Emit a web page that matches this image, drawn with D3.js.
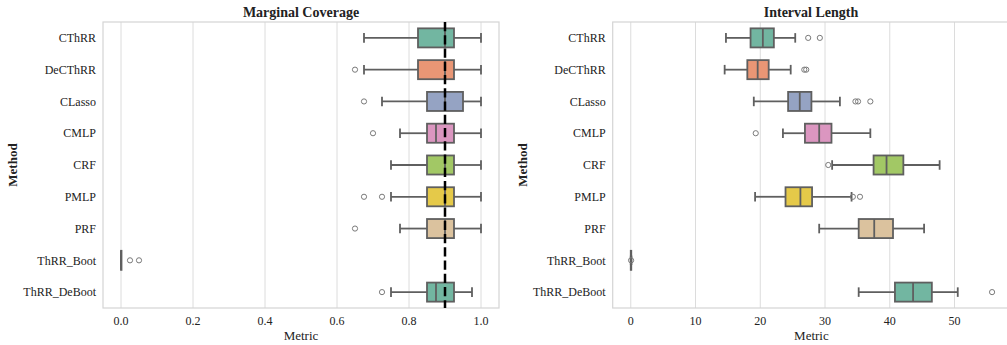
<!DOCTYPE html>
<html>
<head>
<meta charset="utf-8">
<script src="https://cdn.jsdelivr.net/npm/d3@7"></script>
<style>
  body { margin: 0; background: #fff; }
  text { font-family: "Liberation Serif", "Times New Roman", serif; fill: #222; }
</style>
</head>
<body>
<div id="graph"></div>
<script>
"use strict";

const width = 1007,
      height = 345;

const methods = ["CThRR", "DeCThRR", "CLasso", "CMLP", "CRF", "PMLP", "PRF", "ThRR_Boot", "ThRR_DeBoot"];

// Set2 palette, cycles after 8
const palette = ["#66c2a5", "#fc8d62", "#8da0cb", "#e78ac3", "#a6d854", "#ffd92f", "#e5c494", "#b3b3b3", "#66c2a5"];

// marginal coverage: [whisker low, q1, median, q3, whisker high]
const coverageBox = [
    [0.675, 0.825, 0.900, 0.925, 1.000],
    [0.675, 0.825, 0.900, 0.925, 1.000],
    [0.725, 0.850, 0.900, 0.950, 1.000],
    [0.775, 0.850, 0.875, 0.925, 1.000],
    [0.750, 0.850, 0.900, 0.925, 1.000],
    [0.750, 0.850, 0.900, 0.925, 1.000],
    [0.775, 0.850, 0.900, 0.925, 1.000],
    [0.000, 0.000, 0.000, 0.000, 0.000],
    [0.750, 0.850, 0.875, 0.925, 0.975]
];
const coverageOutliers = [
    [],
    [0.65],
    [0.675],
    [0.70],
    [],
    [0.675, 0.725],
    [0.65],
    [0.025, 0.05],
    [0.725]
];
const coverageTarget = 0.9;
const coverageTicks = [0.0, 0.2, 0.4, 0.6, 0.8, 1.0];

// interval length
const lengthBox = [
    [14.7, 18.5, 20.4, 22.1, 25.4],
    [14.5, 18.0, 19.6, 21.3, 24.7],
    [19.0, 24.3, 26.1, 27.9, 32.3],
    [23.5, 26.9, 29.1, 31.0, 37.0],
    [31.1, 37.5, 39.5, 42.1, 47.7],
    [19.2, 23.9, 26.2, 28.0, 34.1],
    [29.1, 35.2, 37.6, 40.5, 45.3],
    [0.0, 0.0, 0.02, 0.05, 0.1],
    [35.2, 40.8, 43.6, 46.5, 50.5]
];
const lengthOutliers = [
    [27.4, 29.2],
    [26.8, 27.1],
    [34.7, 35.1, 37.0],
    [19.3],
    [30.5],
    [34.3, 35.4],
    [],
    [0.05],
    [55.8]
];
const lengthTicks = [0, 10, 20, 30, 40, 50];

const plotTop = 22, plotBottom = 308;
const lineColor = "#5f5f5f";
const gridColor = "#dcdcdc";

const svg = d3.select("#graph")
    .append("svg")
    .attr("width", width)
    .attr("height", height);

function desaturate(c) {
    let h = d3.hsl(c);
    h.s *= 0.75;
    return h.formatHex();
}

function makePanel(opts) {
    let x = d3.scaleLinear().domain(opts.domain).range([opts.left, opts.right]);
    let y = d3.scaleBand().domain(methods).range([plotTop, plotBottom]).padding(0);
    let g = svg.append("g");

    // grid
    g.selectAll(".grid")
        .data(opts.ticks)
        .enter()
        .append("line")
        .attr("x1", d => x(d)).attr("x2", d => x(d))
        .attr("y1", plotTop).attr("y2", plotBottom)
        .attr("stroke", gridColor)
        .attr("stroke-width", 1);

    // frame
    g.append("rect")
        .attr("x", opts.left).attr("y", plotTop)
        .attr("width", opts.right - opts.left).attr("height", plotBottom - plotTop)
        .attr("fill", "none")
        .attr("stroke", "#d4d4d4")
        .attr("stroke-width", 1.2);

    let bw = y.bandwidth() * 0.6;
    let cap = bw * 0.5;

    methods.forEach(function(m, i) {
        let s = opts.box[i];
        let cy = y(m) + y.bandwidth() / 2;
        let row = g.append("g");

        row.append("line")
            .attr("x1", x(s[0])).attr("x2", x(s[1]))
            .attr("y1", cy).attr("y2", cy)
            .attr("stroke", lineColor).attr("stroke-width", 1.8);
        row.append("line")
            .attr("x1", x(s[3])).attr("x2", x(s[4]))
            .attr("y1", cy).attr("y2", cy)
            .attr("stroke", lineColor).attr("stroke-width", 1.8);
        [s[0], s[4]].forEach(function(v) {
            row.append("line")
                .attr("x1", x(v)).attr("x2", x(v))
                .attr("y1", cy - cap / 2).attr("y2", cy + cap / 2)
                .attr("stroke", lineColor).attr("stroke-width", 1.8);
        });
        row.append("rect")
            .attr("x", x(s[1])).attr("y", cy - bw / 2)
            .attr("width", Math.max(x(s[3]) - x(s[1]), 0.5))
            .attr("height", bw)
            .attr("fill", desaturate(palette[i]))
            .attr("stroke", lineColor).attr("stroke-width", 1.8);
        row.append("line")
            .attr("x1", x(s[2])).attr("x2", x(s[2]))
            .attr("y1", cy - bw / 2).attr("y2", cy + bw / 2)
            .attr("stroke", lineColor).attr("stroke-width", 1.8);

        row.selectAll(".flier")
            .data(opts.outliers[i])
            .enter()
            .append("circle")
            .attr("cx", d => x(d)).attr("cy", cy)
            .attr("r", 2.6)
            .attr("fill", "none")
            .attr("stroke", "#7a7a7a")
            .attr("stroke-width", 1);
    });

    if (opts.target !== undefined) {
        g.append("line")
            .attr("x1", x(opts.target)).attr("x2", x(opts.target))
            .attr("y1", plotTop).attr("y2", plotBottom)
            .attr("stroke", "#000")
            .attr("stroke-width", 2.5)
            .attr("stroke-dasharray", "9.25,4");
    }

    // tick labels
    g.selectAll(".xt")
        .data(opts.ticks)
        .enter()
        .append("text")
        .attr("x", d => x(d)).attr("y", 325)
        .attr("text-anchor", "middle")
        .style("font-size", "12px")
        .text(d => opts.fmt(d));

    g.selectAll(".yt")
        .data(methods)
        .enter()
        .append("text")
        .attr("x", opts.left - 7)
        .attr("y", d => y(d) + y.bandwidth() / 2)
        .attr("dy", "0.35em")
        .attr("text-anchor", "end")
        .style("font-size", "12px")
        .text(d => d);

    g.append("text")
        .attr("x", (opts.left + opts.right) / 2).attr("y", 340)
        .attr("text-anchor", "middle")
        .style("font-size", "13px")
        .text("Metric");

    g.append("text")
        .attr("transform", "translate(" + opts.ylabelX + "," + ((plotTop + plotBottom) / 2) + ") rotate(-90)")
        .attr("text-anchor", "middle")
        .style("font-size", "13px")
        .style("font-weight", "bold")
        .text("Method");

    let titleX = opts.titleX !== undefined ? opts.titleX : (opts.left + opts.right) / 2;
    g.append("text")
        .attr("x", titleX).attr("y", 17)
        .attr("text-anchor", "middle")
        .style("font-size", "14px")
        .style("font-weight", "bold")
        .text(opts.title);
}

makePanel({
    left: 103, right: 499,
    domain: [-0.05, 1.05],
    ticks: coverageTicks,
    fmt: d3.format(".1f"),
    box: coverageBox,
    outliers: coverageOutliers,
    target: coverageTarget,
    title: "Marginal Coverage",
    ylabelX: 17
});

// padding of 5% around the data range, as in the source figure
let lenMax = d3.max(lengthOutliers.flat().concat(lengthBox.map(d => d[4])));
let lenPad = lenMax * 0.05;

makePanel({
    left: 612.7, right: 612.7 + (lenMax + 2 * lenPad) * 6.475,
    domain: [-lenPad, lenMax + lenPad],
    ticks: lengthTicks,
    fmt: d3.format("d"),
    box: lengthBox,
    outliers: lengthOutliers,
    title: "Interval Length",
    titleX: 811,
    ylabelX: 527
});
</script>
</body>
</html>
